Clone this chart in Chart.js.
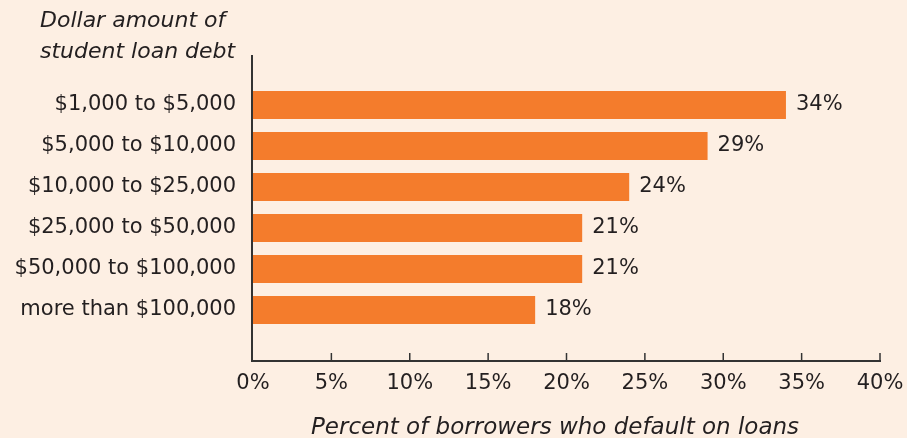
<!DOCTYPE html>
<html>
<head>
<meta charset="utf-8">
<script src="https://cdn.jsdelivr.net/npm/chart.js@4"></script>
<style>
  html, body { margin: 0; padding: 0; background: #fdefe3; }
  #wrap { width: 907px; height: 438px; position: relative; }
</style>
</head>
<body>
<div id="wrap"><canvas id="chart"></canvas></div>
<script>
// debt bands, top to bottom
const categories = [
  "$1,000 to $5,000",
  "$5,000 to $10,000",
  "$10,000 to $25,000",
  "$25,000 to $50,000",
  "$50,000 to $100,000",
  "more than $100,000",
];
// percent of borrowers who default
const defaultRates = [34, 29, 24, 21, 21, 18];
const xTickValues = [0, 5, 10, 15, 20, 25, 30, 35, 40];

const yTitle = ["Dollar amount of", "student loan debt"];
const xTitle = "Percent of borrowers who default on loans";

const ink = "#231f20";
const font = "DejaVu Sans";

// axis lines, inward ticks, titles and value labels
const overlay = {
  id: "overlay",
  afterDatasetsDraw(chart) {
    const { ctx, chartArea: area, scales: { x } } = chart;
    const axisY = area.bottom + 30.5;
    const left = area.left - 1;

    ctx.save();
    ctx.strokeStyle = "#333";
    ctx.lineWidth = 2;
    ctx.beginPath();
    ctx.moveTo(left, 55);
    ctx.lineTo(left, axisY);
    ctx.lineTo(x.getPixelForValue(40) + 1, axisY);
    ctx.stroke();

    ctx.lineWidth = 1.5;
    xTickValues.slice(1).forEach((v) => {
      const px = x.getPixelForValue(v);
      ctx.beginPath();
      ctx.moveTo(px, axisY);
      ctx.lineTo(px, axisY - 8);
      ctx.stroke();
    });

    ctx.fillStyle = ink;
    ctx.textBaseline = "middle";
    ctx.font = `21px "${font}"`;
    ctx.textAlign = "left";
    chart.getDatasetMeta(0).data.forEach((bar, i) => {
      ctx.fillText(defaultRates[i] + "%", bar.x + 10, bar.y);
    });

    ctx.font = `italic 22px "${font}"`;
    ctx.fillText(yTitle[0], 40, 21);
    ctx.fillText(yTitle[1], 40, 52);

    ctx.font = `italic 23px "${font}"`;
    ctx.textAlign = "center";
    ctx.fillText(xTitle, 555, 428);
    ctx.restore();
  },
};

new Chart(document.getElementById("chart"), {
  type: "bar",
  data: {
    labels: categories,
    datasets: [
      {
        data: defaultRates,
        backgroundColor: "#f47c2c",
        barPercentage: 0.683,
        categoryPercentage: 1,
      },
    ],
  },
  options: {
    indexAxis: "y",
    responsive: true,
    maintainAspectRatio: false,
    animation: false,
    layout: { padding: { top: 84.5, right: 27, bottom: 0, left: 0 } },
    plugins: {
      legend: { display: false },
      tooltip: { enabled: false },
    },
    scales: {
      x: {
        min: 0,
        max: 40,
        afterBuildTicks: (scale) => {
          scale.ticks = xTickValues.map((v) => ({ value: v }));
        },
        afterFit: (scale) => {
          scale.height = 107.5;
          scale.paddingLeft = 0;
          scale.paddingRight = 0;
        },
        grid: { display: false, drawTicks: false },
        border: { display: false },
        ticks: {
          padding: 40,
          color: ink,
          font: { family: font, size: 21 },
          callback: (v) => v + "%",
          maxRotation: 0,
        },
      },
      y: {
        afterFit: (scale) => { scale.width = 253; },
        grid: { display: false, drawTicks: false },
        border: { display: false },
        ticks: {
          padding: 17,
          color: ink,
          font: { family: font, size: 21 },
        },
      },
    },
  },
  plugins: [overlay],
});
</script>
</body>
</html>
